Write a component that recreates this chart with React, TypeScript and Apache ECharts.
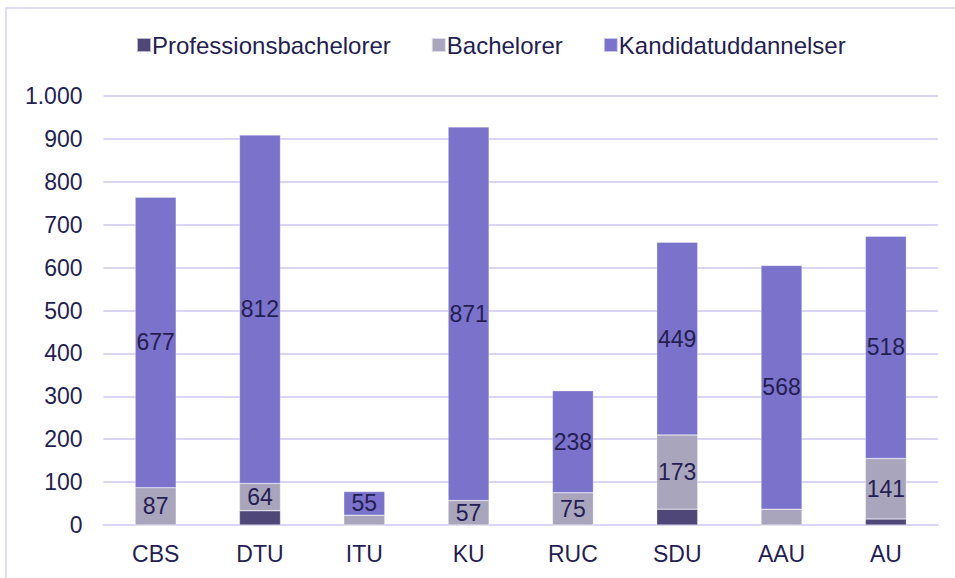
import React, { useEffect, useRef } from "react";
import * as echarts from "echarts";

const categories = ["CBS", "DTU", "ITU", "KU", "RUC", "SDU", "AAU", "AU"];
const professionsbachelorer = [0, 33, 0, 0, 0, 37, 0, 14];
const bachelorer = [87, 64, 23, 57, 75, 173, 37, 141];
const kandidatuddannelser = [677, 812, 55, 871, 238, 449, 568, 518];
const seriesNames = ["Professionsbachelorer", "Bachelorer", "Kandidatuddannelser"];
const yTicks = { min: 0, max: 1000, interval: 100 };

const TEXT = "#241e52";
const GRID = "#d9d5f2";
const FONT = "'Liberation Sans', Arial, sans-serif";

export default function App() {
  const ref = useRef<HTMLDivElement>(null);
  useEffect(() => {
    if (!ref.current) return;
    const chart = echarts.init(ref.current, undefined, { renderer: "svg" });
    const label = {
      show: true,
      position: "inside",
      color: TEXT,
      fontSize: 23,
      fontFamily: FONT,
      formatter: (p: any) => (p.value >= 50 ? String(p.value) : ""),
    };
    const mk = (name: string, data: number[], color: string, showLabel: boolean) => ({
      name,
      type: "bar",
      stack: "total",
      barWidth: 41,
      data,
      itemStyle: { color, borderColor: "rgba(255,255,255,0.6)", borderWidth: 0.5 },
      label: showLabel ? label : { show: false },
    });
    chart.setOption({
      animation: false,
      backgroundColor: "#ffffff",
      textStyle: { fontFamily: FONT },
      graphic: [
        {
          type: "rect",
          shape: { x: 6, y: 8, width: 980, height: 620 },
          style: { fill: "none", stroke: "#d6d2ee", lineWidth: 1.5 },
          silent: true,
        },
      ],
      legend: {
        top: 28,
        left: 131,
        itemWidth: 14,
        itemHeight: 14,
        itemGap: 40,
        icon: "rect",
        textStyle: { color: TEXT, fontSize: 24, fontFamily: FONT, padding: [0, 0, 0, -4] },
        data: seriesNames,
      },
      grid: { left: 103.5, right: 17, top: 96, bottom: 53, containLabel: false },
      xAxis: {
        type: "category",
        data: categories,
        axisLine: { show: true, lineStyle: { color: GRID, width: 2 } },
        axisTick: { show: false },
        axisLabel: { color: TEXT, fontSize: 23, fontFamily: FONT, margin: 17 },
      },
      yAxis: {
        type: "value",
        min: yTicks.min,
        max: yTicks.max,
        interval: yTicks.interval,
        axisLine: { show: false },
        axisTick: { show: false },
        splitLine: { lineStyle: { color: GRID, width: 2 } },
        axisLabel: {
          color: TEXT,
          fontSize: 23,
          fontFamily: FONT,
          margin: 21,
          formatter: (v: number) => String(v).replace(/\B(?=(\d{3})+(?!\d))/g, "."),
        },
      },
      series: [
        mk(seriesNames[0], professionsbachelorer, "#4e4778", false),
        mk(seriesNames[1], bachelorer, "#a9a5bd", true),
        mk(seriesNames[2], kandidatuddannelser, "#7b72cb", true),
      ],
    });
    return () => chart.dispose();
  }, []);
  return (
    <div
      ref={ref}
      style={{ position: "fixed", left: 0, top: 0, width: 955, height: 578 }}
    />
  );
}
